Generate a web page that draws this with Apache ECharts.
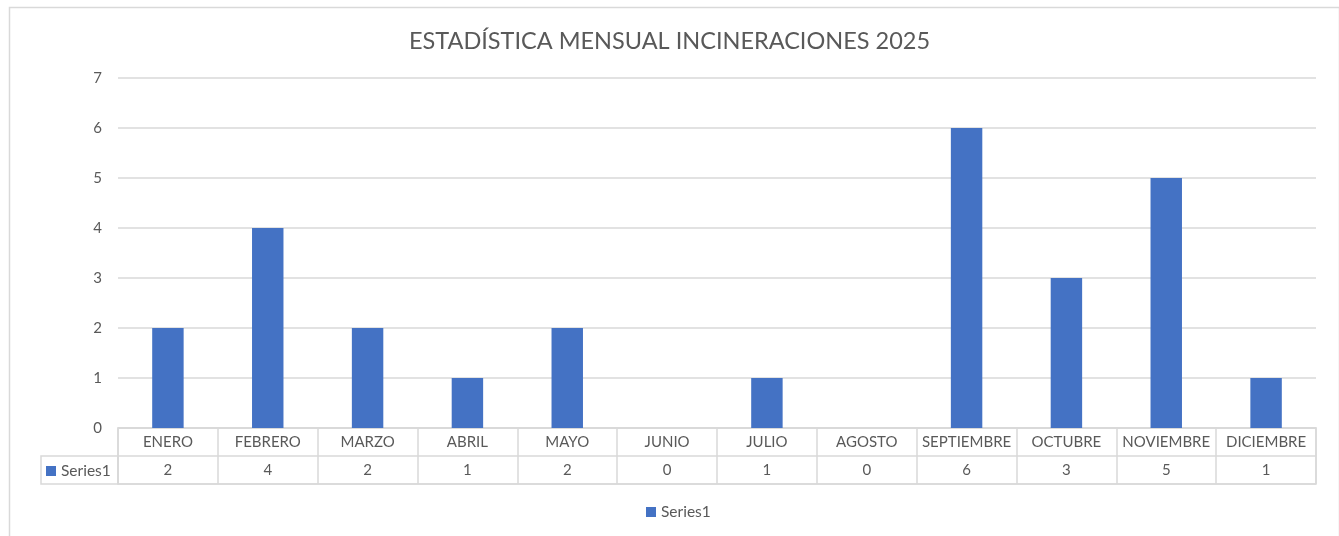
<!DOCTYPE html>
<html>
<head>
<meta charset="utf-8">
<script src="https://cdn.jsdelivr.net/npm/echarts@6/dist/echarts.min.js"></script>
<style>
html,body{margin:0;padding:0;background:#fff;}
#chart{width:1339px;height:536px;}
</style>
</head>
<body>
<div id="chart"></div>
<script>
const titleText = 'ESTADÍSTICA MENSUAL INCINERACIONES 2025';
const categories = ['ENERO','FEBRERO','MARZO','ABRIL','MAYO','JUNIO','JULIO','AGOSTO','SEPTIEMBRE','OCTUBRE','NOVIEMBRE','DICIEMBRE'];
const seriesName = 'Series1';
const values = [2,4,2,1,2,0,1,0,6,3,5,1];
const yTicks = [0,1,2,3,4,5,6,7];

const FONT = 'Lato, "Open Sans", sans-serif';
const TXT = '#595959';
const LINE = '#d9d9d9';
const BAR = '#4472C4';

const chart = echarts.init(document.getElementById('chart'), null, {renderer:'canvas'});
chart.setOption({
  animation: false,
  textStyle: {fontFamily: FONT},
  title: {
    text: titleText, left: 'center', top: 24,
    textStyle: {fontFamily: FONT, fontSize: 23.5, fontWeight: 'normal', color: TXT}
  },
  graphic: [{
    type: 'rect', left: 7, top: 5, silent: true,
    shape: {width: 1330, height: 545},
    style: {fill: 'none', stroke: LINE, lineWidth: 1.5}
  }],
  legend: [
    {data:[seriesName], icon:'rect', left: 641, top: 499, itemWidth: 10, itemHeight: 10, itemGap: 5,
     textStyle:{fontFamily: FONT, fontSize: 15.5, color: TXT}, selectedMode:false},
    {data:[seriesName], icon:'rect', left: 41, top: 458, itemWidth: 10, itemHeight: 10,
     textStyle:{fontFamily: FONT, fontSize: 15.5, color: TXT}, selectedMode:false}
  ],
  grid: [
    {left: 118, right: 23, top: 78, height: 350, containLabel: false},
    {left: 118, right: 23, top: 428, height: 56, show: true, borderColor: LINE, borderWidth: 1.5},
    {left: 41, width: 77, top: 456, height: 28, show: true, borderColor: LINE, borderWidth: 1.5}
  ],
  xAxis: [
    {type:'category', gridIndex:0, data: categories,
     axisLabel:{show:false}, axisTick:{show:false}, axisLine:{show:true, lineStyle:{color: LINE, width:1.5}}},
    {type:'category', gridIndex:1, position:'top', data: categories,
     axisLabel:{inside:true, margin:7, fontSize:15, color: TXT, fontFamily: FONT, interval:0},
     axisTick:{show:false}, axisLine:{show:false},
     splitLine:{show:true, interval:0, lineStyle:{color: LINE, width:1.5}}},
    {type:'category', gridIndex:1, position:'bottom', data: values.map(v => String(v)),
     axisLabel:{inside:true, margin:6, fontSize:15, color: TXT, fontFamily: FONT, interval:0},
     axisTick:{show:false}, axisLine:{show:false}, splitLine:{show:false}},
    {type:'category', gridIndex:2, data:[''], show:false}
  ],
  yAxis: [
    {type:'value', gridIndex:0, min: yTicks[0], max: yTicks[yTicks.length-1], interval: 1,
     axisLabel:{fontSize:15, color: TXT, fontFamily: FONT, margin: 16},
     axisLine:{show:false}, axisTick:{show:false},
     splitLine:{lineStyle:{color: LINE, width:1.5}}},
    {type:'value', gridIndex:1, min:0, max:2, interval:1,
     axisLabel:{show:false}, axisLine:{show:false}, axisTick:{show:false},
     splitLine:{show:true, lineStyle:{color: LINE, width:1.5}}},
    {type:'value', gridIndex:2, show:false}
  ],
  series: [{
    name: seriesName, type: 'bar', xAxisIndex: 0, yAxisIndex: 0,
    data: values, barWidth: '31.5%', itemStyle: {color: BAR}
  }]
});
</script>
</body>
</html>
